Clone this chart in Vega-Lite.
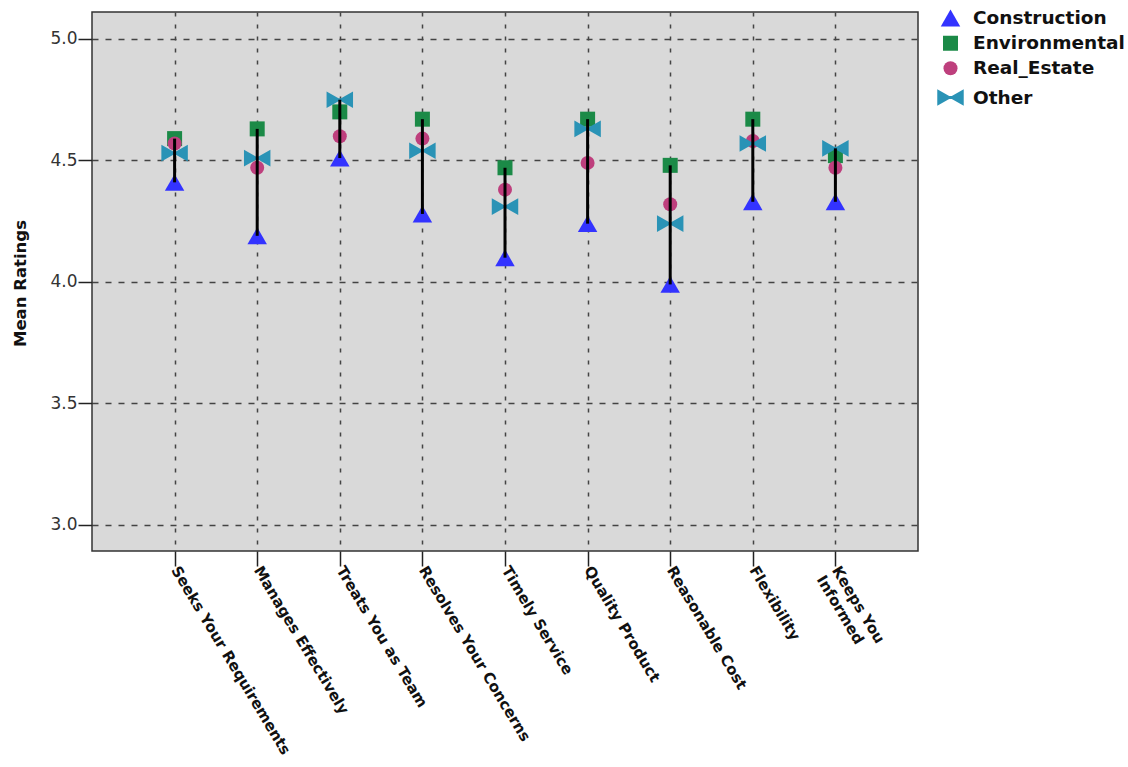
{
  "$schema": "https://vega.github.io/schema/vega-lite/v6.json",
  "autosize": {"type": "none"},
  "padding": {"left": 92, "top": 12, "right": 210, "bottom": 216},
  "width": 826,
  "height": 539,
  "background": "white",
  "config": {
    "view": {"fill": "#d9d9d9", "stroke": "#333333", "strokeWidth": 1.5},
    "font": "DejaVu Sans"
  },
  "data": {
    "values": [
      {"item": "Seeks Your Requirements", "group": "Construction", "value": 4.41},
      {"item": "Seeks Your Requirements", "group": "Environmental", "value": 4.59},
      {"item": "Seeks Your Requirements", "group": "Real_Estate", "value": 4.57},
      {"item": "Seeks Your Requirements", "group": "Other", "value": 4.53},
      {"item": "Manages Effectively", "group": "Construction", "value": 4.19},
      {"item": "Manages Effectively", "group": "Environmental", "value": 4.63},
      {"item": "Manages Effectively", "group": "Real_Estate", "value": 4.47},
      {"item": "Manages Effectively", "group": "Other", "value": 4.51},
      {"item": "Treats You as Team", "group": "Construction", "value": 4.51},
      {"item": "Treats You as Team", "group": "Environmental", "value": 4.70},
      {"item": "Treats You as Team", "group": "Real_Estate", "value": 4.60},
      {"item": "Treats You as Team", "group": "Other", "value": 4.75},
      {"item": "Resolves Your Concerns", "group": "Construction", "value": 4.28},
      {"item": "Resolves Your Concerns", "group": "Environmental", "value": 4.67},
      {"item": "Resolves Your Concerns", "group": "Real_Estate", "value": 4.59},
      {"item": "Resolves Your Concerns", "group": "Other", "value": 4.54},
      {"item": "Timely Service", "group": "Construction", "value": 4.10},
      {"item": "Timely Service", "group": "Environmental", "value": 4.47},
      {"item": "Timely Service", "group": "Real_Estate", "value": 4.38},
      {"item": "Timely Service", "group": "Other", "value": 4.31},
      {"item": "Quality Product", "group": "Construction", "value": 4.24},
      {"item": "Quality Product", "group": "Environmental", "value": 4.67},
      {"item": "Quality Product", "group": "Real_Estate", "value": 4.49},
      {"item": "Quality Product", "group": "Other", "value": 4.63},
      {"item": "Reasonable Cost", "group": "Construction", "value": 3.99},
      {"item": "Reasonable Cost", "group": "Environmental", "value": 4.48},
      {"item": "Reasonable Cost", "group": "Real_Estate", "value": 4.32},
      {"item": "Reasonable Cost", "group": "Other", "value": 4.24},
      {"item": "Flexibility", "group": "Construction", "value": 4.33},
      {"item": "Flexibility", "group": "Environmental", "value": 4.67},
      {"item": "Flexibility", "group": "Real_Estate", "value": 4.58},
      {"item": "Flexibility", "group": "Other", "value": 4.57},
      {"item": "Keeps You Informed", "group": "Construction", "value": 4.33},
      {"item": "Keeps You Informed", "group": "Environmental", "value": 4.52},
      {"item": "Keeps You Informed", "group": "Real_Estate", "value": 4.47},
      {"item": "Keeps You Informed", "group": "Other", "value": 4.55}
    ]
  },
  "encoding": {
    "x": {
      "field": "item",
      "type": "nominal",
      "sort": null,
      "scale": {"type": "point", "padding": 1},
      "axis": {
        "title": null,
        "grid": true,
        "gridColor": "#444444",
        "gridDash": [4, 8],
        "gridWidth": 1.5,
        "domain": false,
        "tickSize": 15,
        "tickColor": "#222222",
        "tickWidth": 1.5,
        "labelAngle": 59,
        "labelAlign": "left",
        "labelBaseline": "middle",
        "labelPadding": 1,
        "labelFont": "DejaVu Sans",
        "labelFontWeight": "bold",
        "labelFontSize": 15,
        "labelColor": "#111111",
        "labelLineHeight": 18,
        "labelLimit": 0,
        "labelExpr": "datum.label == 'Keeps You Informed' ? ['Keeps You', 'Informed'] : datum.label"
      }
    }
  },
  "layer": [
    {
      "mark": {"type": "point", "filled": true, "opacity": 1},
      "encoding": {
        "y": {
          "field": "value",
          "type": "quantitative",
          "scale": {"domain": [2.893, 5.111], "nice": false, "zero": false},
          "axis": {
            "title": "Mean Ratings",
            "titleFont": "DejaVu Sans",
            "titleFontWeight": "bold",
            "titleFontSize": 16.5,
            "titleColor": "#111111",
            "titleX": -72,
            "titleY": 271,
            "titleAngle": -90,
            "titleAlign": "center",
            "titleBaseline": "middle",
            "values": [3.0, 3.5, 4.0, 4.5, 5.0],
            "format": ".1f",
            "grid": true,
            "gridColor": "#444444",
            "gridDash": [6, 7],
            "gridWidth": 1.5,
            "domain": false,
            "tickSize": 14,
            "tickColor": "#222222",
            "tickWidth": 1.5,
            "labelFont": "DejaVu Sans",
            "labelFontSize": 17,
            "labelColor": "#333333",
            "labelPadding": 1
          }
        },
        "color": {
          "field": "group",
          "type": "nominal",
          "scale": {
            "domain": ["Construction", "Environmental", "Real_Estate", "Other"],
            "range": ["#3333ff", "#1b8a47", "#be3f7d", "#2a93b6"]
          },
          "legend": {
            "title": null,
            "orient": "none",
            "legendX": 845,
            "legendY": -4,
            "labelFont": "DejaVu Sans",
            "labelFontWeight": "bold",
            "labelFontSize": 18.5,
            "labelColor": "#111111",
            "rowPadding": 6,
            "labelOffset": 9,
            "symbolStrokeWidth": 0
          }
        },
        "shape": {
          "field": "group",
          "type": "nominal",
          "scale": {
            "domain": ["Construction", "Environmental", "Real_Estate", "Other"],
            "range": ["triangle-up", "square", "circle", "M-1,-0.63L-0.1,-0.12L0.1,-0.12L1,-0.63L1,0.63L0.1,0.12L-0.1,0.12L-1,0.63Z"]
          }
        },
        "size": {
          "field": "group",
          "type": "nominal",
          "scale": {
            "type": "ordinal",
            "domain": ["Construction", "Environmental", "Real_Estate", "Other"],
            "range": [380, 225, 196, 700]
          }
        }
      }
    },
    {
      "mark": {"type": "rule", "color": "#000000", "strokeWidth": 3},
      "encoding": {
        "y": {"aggregate": "min", "field": "value", "type": "quantitative"},
        "y2": {"aggregate": "max", "field": "value"}
      }
    }
  ]
}
